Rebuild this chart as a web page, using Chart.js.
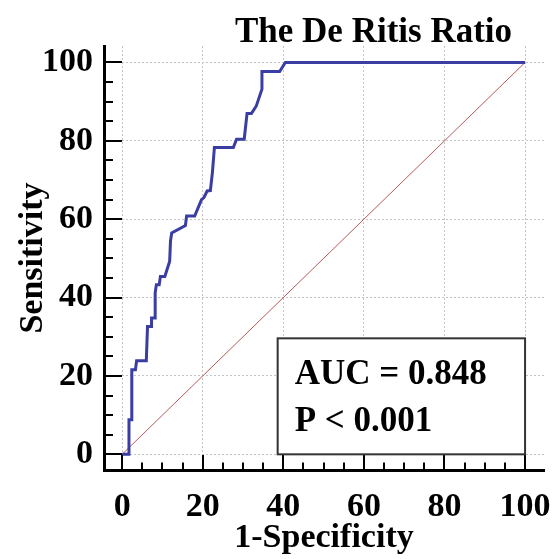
<!DOCTYPE html>
<html>
<head>
<meta charset="utf-8">
<script src="https://cdn.jsdelivr.net/npm/chart.js@4/dist/chart.umd.min.js"></script>
<style>
  html, body { margin: 0; padding: 0; background: #ffffff; }
  #wrap { width: 557px; height: 559px; position: relative; }
</style>
</head>
<body>
<div id="wrap"><canvas id="c" width="557" height="559"></canvas></div>
<script>
// ---- data ----
const titleText = 'The De Ritis Ratio';
const xAxisTitle = '1-Specificity';
const yAxisTitle = 'Sensitivity';
const statLines = ['AUC = 0.848', 'P < 0.001'];

// ROC curve vertices (1-Specificity %, Sensitivity %)
const fpr = [0, 1.7, 1.7, 2.4, 2.4, 3.3, 3.6, 6.0, 6.3, 7.3, 7.3, 8.2, 8.2, 8.5, 9.2, 9.5, 10.6, 11.8, 12.0, 12.3, 15.7, 16.0, 18.0, 19.7, 20.3, 21.1, 21.9, 22.4, 22.9, 27.6, 28.4, 30.3, 31.0, 32.1, 33.3, 34.7, 34.7, 39.1, 40.5, 100];
const tpr = [0, 0, 8.8, 8.8, 21.6, 21.6, 23.9, 23.9, 32.6, 32.6, 34.8, 34.8, 41.2, 43.3, 43.3, 45.4, 45.4, 49.3, 54.4, 56.5, 58.4, 60.8, 60.8, 65.0, 65.5, 67.2, 67.3, 71.9, 78.3, 78.3, 80.4, 80.4, 87.0, 87.0, 88.9, 93.2, 97.7, 97.7, 100, 100];

// reference diagonal
const diagX = [0, 100];
const diagY = [0, 100];

// tick values (majors are labelled)
const tickValues = [0, 5, 10, 15, 20, 25, 30, 35, 40, 45, 50, 55, 60, 65, 70, 75, 80, 85, 90, 95, 100];
const majorTicks = [0, 20, 40, 60, 80, 100];

// ---- chart ----
const FONT = '"Liberation Serif", "Times New Roman", serif';
const curvePts = fpr.map((x, i) => ({ x: x, y: tpr[i] }));
const diagPts = diagX.map((x, i) => ({ x: x, y: diagY[i] }));

const decor = {
  id: 'decor',
  afterDatasetsDraw(chart) {
    const ctx = chart.ctx;
    const xs = chart.scales.x, ys = chart.scales.y;
    const ca = chart.chartArea;
    ctx.save();
    // inward tick marks
    ctx.strokeStyle = '#000';
    ctx.lineWidth = 2;
    tickValues.forEach(v => {
      const major = majorTicks.includes(v);
      const py = Math.round(ys.getPixelForValue(v));
      ctx.beginPath();
      ctx.moveTo(ca.left, py);
      ctx.lineTo(ca.left + (major ? 18 : 9), py);
      ctx.stroke();
      const px = Math.round(xs.getPixelForValue(v));
      ctx.beginPath();
      ctx.moveTo(px, ca.bottom);
      ctx.lineTo(px, ca.bottom - (major ? 15 : 7.5));
      ctx.stroke();
    });
    // statistics box
    const bx0 = xs.getPixelForValue(38.6), bx1 = xs.getPixelForValue(100);
    const by0 = ys.getPixelForValue(29.6), by1 = ys.getPixelForValue(0);
    ctx.fillStyle = '#fff';
    ctx.fillRect(bx0, by0, bx1 - bx0, by1 - by0);
    ctx.strokeStyle = '#333';
    ctx.lineWidth = 2;
    ctx.strokeRect(bx0, by0, bx1 - bx0, by1 - by0);
    ctx.fillStyle = '#000';
    ctx.font = 'bold 35px ' + FONT;
    ctx.textAlign = 'left';
    ctx.textBaseline = 'alphabetic';
    ctx.fillText(statLines[0], bx0 + 17, by0 + 46);
    ctx.fillText(statLines[1], bx0 + 17, by0 + 92.5);
    // title
    ctx.font = 'bold 35px ' + FONT;
    ctx.textAlign = 'center';
    ctx.fillText(titleText, 373.5, 42);
    ctx.restore();
  }
};

new Chart(document.getElementById('c'), {
  type: 'scatter',
  data: {
    datasets: [
      {
        data: curvePts,
        showLine: true,
        borderColor: '#3a3da2',
        borderWidth: 3,
        pointRadius: 0,
        tension: 0,
        fill: false
      },
      {
        data: diagPts,
        showLine: true,
        borderColor: '#b85858',
        borderWidth: 1,
        pointRadius: 0,
        tension: 0,
        fill: false
      }
    ]
  },
  options: {
    responsive: false,
    animation: false,
    devicePixelRatio: 1,
    layout: { padding: { top: 46, right: 13, left: 0, bottom: 0 } },
    plugins: { legend: { display: false }, tooltip: { enabled: false }, title: { display: false } },
    scales: {
      x: {
        type: 'linear',
        min: -4.5,
        max: 104.7,
        afterBuildTicks: s => { s.ticks = tickValues.map(v => ({ value: v })); },
        afterFit: s => { s.height = 89; s.paddingLeft = 0; s.paddingRight = 0; },
        ticks: {
          autoSkip: false,
          maxRotation: 0,
          padding: 17,
          color: '#000',
          font: { family: FONT, size: 34, weight: 'bold' },
          callback: v => majorTicks.includes(v) ? String(v) : ''
        },
        grid: {
          drawTicks: false,
          lineWidth: 1,
          color: c => (c.tick && majorTicks.includes(c.tick.value)) ? '#c4c4c4' : 'rgba(0,0,0,0)'
        },
        border: { display: true, color: '#000', width: 3, dash: [2, 2] },
        title: {
          display: true,
          text: xAxisTitle,
          color: '#000',
          font: { family: FONT, size: 34, weight: 'bold' },
          padding: { top: 0, bottom: 0 }
        }
      },
      y: {
        type: 'linear',
        min: -4.0,
        max: 104.2,
        afterBuildTicks: s => { s.ticks = tickValues.map(v => ({ value: v })); },
        afterFit: s => { s.width = 104; s.paddingTop = 0; s.paddingBottom = 0; },
        ticks: {
          autoSkip: false,
          padding: 11,
          color: '#000',
          font: { family: FONT, size: 34, weight: 'bold' },
          callback: v => majorTicks.includes(v) ? String(v) : ''
        },
        grid: {
          drawTicks: false,
          lineWidth: 1,
          color: c => (c.tick && majorTicks.includes(c.tick.value)) ? '#c4c4c4' : 'rgba(0,0,0,0)'
        },
        border: { display: true, color: '#000', width: 3, dash: [2, 2] },
        title: {
          display: true,
          text: yAxisTitle,
          color: '#000',
          font: { family: FONT, size: 34, weight: 'bold' },
          padding: { top: 13, bottom: 0 }
        }
      }
    }
  },
  plugins: [decor]
});
</script>
</body>
</html>
